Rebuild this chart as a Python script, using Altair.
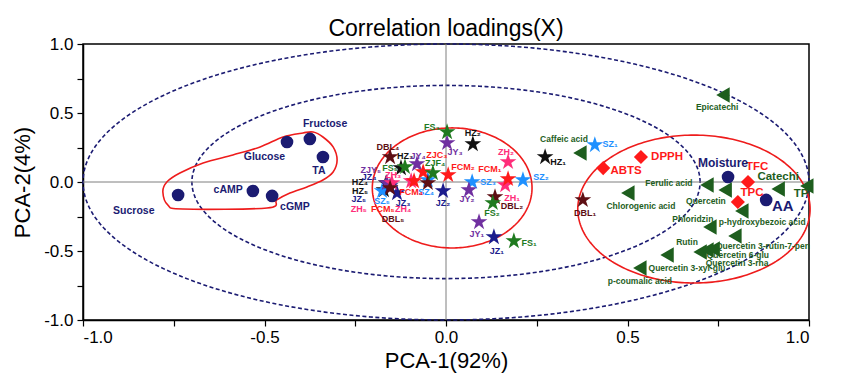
import altair as alt
import pandas as pd
import numpy as np

FONT = "Liberation Sans"

# ---------------- data ----------------
# navy circles
circ_x = [-0.738, -0.532, -0.479, -0.438, -0.375, -0.339, 0.777, 0.882]
circ_y = [-0.094, -0.065, -0.101, 0.290, 0.312, 0.181, 0.036, -0.130]

# left cluster labels
lcl_text = ["Sucrose", "cAMP", "cGMP", "Glucose", "Fructose", "TA"]
lcl_x = [-0.86, -0.600, -0.416, -0.500, -0.333, -0.350]
lcl_y = [-0.210, -0.058, -0.181, 0.181, 0.420, 0.080]

# green triangles (phenolics etc.)
tri_name = ["Epicatechi", "Caffeic acid", "Chlorogenic acid", "Ferulic acid", "Quercetin",
            "Catechi", "TP", "p-hydroxybezoic acid", "Phloridzin", "Quercetin 3-rutin-7-pen",
            "Rutin", "Quercetin 6-glu", "Quercetin 3-rha", "Quercetin 3-xyl-glu", "p-coumalic acid"]
tri_x = [0.763, 0.369, 0.501, 0.719, 0.769, 0.915, 0.994, 0.815, 0.727, 0.796,
         0.700, 0.719, 0.736, 0.609, 0.534]
tri_y = [0.630, 0.210, -0.080, -0.022, -0.058, -0.051, -0.029, -0.210, -0.326, -0.391,
         -0.507, -0.493, -0.486, -0.529, -0.623]
# small green labels
gl_text = ["Epicatechi", "Caffeic acid", "Chlorogenic acid", "Ferulic acid", "Quercetin",
           "p-hydroxybezoic acid", "Phloridzin", "Quercetin 3-rutin-7-pen", "Rutin",
           "Quercetin 6-glu", "Quercetin 3-rha", "Quercetin 3-xyl-glu", "p-coumalic acid"]
gl_x = [0.747, 0.325, 0.537, 0.614, 0.716, 0.871, 0.680, 0.873, 0.664, 0.804, 0.802, 0.664, 0.534]
gl_y = [0.543, 0.312, -0.174, -0.007, -0.138, -0.290, -0.268, -0.464, -0.435, -0.529, -0.587, -0.623, -0.717]
# larger green labels
gL_text = ["Catechi", "TP"]
gL_x = [0.915, 0.978]
gL_y = [0.036, -0.087]

# red diamonds
dia_name = ["ABTS", "DPPH", "TFC", "TPC"]
dia_x = [0.433, 0.537, 0.832, 0.804]
dia_y = [0.101, 0.181, 0.000, -0.145]
dia_lx = [0.496, 0.609, 0.857, 0.843]
dia_ly = [0.080, 0.181, 0.109, -0.080]

# navy labels on the right
nav_text = ["Moisture", "AA"]
nav_x = [0.763, 0.928]
nav_y = [0.138, -0.174]

# stars (samples)
star_group = ["HZ", "HZ", "HZ", "HZ", "HZ",
              "SZ", "SZ", "SZ", "SZ", "SZ",
              "JZ", "JZ", "JZ", "JZ",
              "JY", "JY", "JY", "JY", "JY",
              "ZH", "ZH", "ZH", "ZH",
              "FCM", "FCM", "FCM", "FCM",
              "DBL", "DBL", "DBL", "DBL", "DBL",
              "FS", "FS", "FS", "FS", "FS"]
star_x = [0.273, 0.074, -0.124, -0.165, -0.171,
          0.410, 0.212, 0.072, -0.050, -0.176,
          0.132, -0.008, -0.135, -0.154,
          0.091, 0.063, 0.003, -0.080, -0.163,
          0.163, 0.171, -0.149, -0.096,
          0.171, 0.006, -0.088, -0.063,
          0.377, 0.135, -0.154, -0.154, -0.050,
          0.187, 0.129, 0.003, -0.113, -0.036]
star_y = [0.181, 0.275, 0.101, -0.007, -0.058,
          0.268, 0.014, 0.000, 0.014, -0.065,
          -0.399, -0.065, -0.080, -0.029,
          -0.290, -0.058, 0.283, 0.130, -0.007,
          -0.022, 0.145, -0.007, 0.007,
          0.022, 0.051, 0.007, 0.072,
          -0.130, -0.109, 0.181, -0.043, -0.007,
          -0.428, -0.152, 0.362, 0.109, 0.065]

# sample labels
sl_text = ["HZ₁", "HZ₂", "HZ₃", "HZ₄", "HZ₅",
           "SZ₁", "SZ₂", "SZ₃", "SZ₄", "SZ₅",
           "JZ₁", "JZ₂", "JZ₃", "JZ₄", "JZ₅",
           "JY₁", "JY₂", "JY₃", "JY₄", "ZJY₅",
           "ZH₁", "ZH₂", "ZH₃", "ZH₄", "ZH₅",
           "FCM₁", "FCM₂", "FCM₄", "FCM₅", "ZJC₃",
           "DBL₁", "DBL₂", "DBL₄", "DBL₅",
           "FS₁", "FS₂", "FS₃", "FS₅", "ZJF₄"]
sl_group = ["HZ"] * 5 + ["SZ"] * 5 + ["JZ"] * 5 + ["JY"] * 5 + ["ZH"] * 5 + ["FCM"] * 5 + ["DBL"] * 4 + ["FS"] * 5
sl_x = [0.309, 0.074, -0.113, -0.237, -0.237,
        0.452, 0.262, 0.116, -0.055, -0.176,
        0.140, -0.008, -0.118, -0.212, -0.240,
        0.085, 0.058, 0.025, -0.077, -0.207,
        0.182, 0.165, -0.146, -0.118, -0.240,
        0.121, 0.047, -0.096, -0.174, -0.025,
        0.383, 0.182, -0.160, -0.146,
        0.229, 0.127, -0.039, -0.154, -0.030]
sl_y = [0.145, 0.355, 0.188, 0.000, -0.065,
        0.275, 0.036, 0.000, -0.072, -0.138,
        -0.500, -0.152, -0.152, 0.036, -0.123,
        -0.377, -0.123, 0.217, 0.188, 0.087,
        -0.116, 0.217, 0.051, -0.196, -0.196,
        0.094, 0.109, -0.072, -0.196, 0.196,
        -0.225, -0.174, 0.254, -0.268,
        -0.442, -0.225, 0.399, 0.101, 0.138]

group_domain = ["HZ", "SZ", "JZ", "JY", "ZH", "FCM", "DBL", "FS"]
group_range = ["#111111", "#1e90ff", "#1c1c8c", "#7030a0", "#ff2d7a", "#ff1a1a", "#5e0f14", "#1f7a1f"]

# freeform outline around the sugar cluster
blob_x = [-0.780, -0.769, -0.733, -0.669, -0.587, -0.512, -0.449, -0.394, -0.366, -0.339,
          -0.311, -0.300, -0.311, -0.339, -0.383, -0.430, -0.466, -0.493, -0.725, -0.766]
blob_y = [-0.072, 0.000, 0.065, 0.138, 0.196, 0.254, 0.326, 0.355, 0.362, 0.326,
          0.254, 0.159, 0.072, 0.014, -0.036, -0.080, -0.130, -0.188, -0.196, -0.167]

# reference circles (correlation 100% and 70%) and red ellipses: centre x, centre y, radius x, radius y
dashed_cx, dashed_cy, dashed_rx, dashed_ry = [0, 0], [0, 0], [1.0, 0.7], [1.0, 0.7]
red_cx, red_cy, red_rx, red_ry = [0.017, 0.683], [-0.043, -0.196], [0.220, 0.320], [0.435, 0.536]


def ellipse_df(cx, cy, rx, ry):
    t = np.linspace(0, 2 * np.pi, 241)
    rows = []
    for k in range(len(cx)):
        for i, tt in enumerate(t):
            rows.append({"id": k, "o": i, "x": cx[k] + rx[k] * np.cos(tt), "y": cy[k] + ry[k] * np.sin(tt)})
    return pd.DataFrame(rows)


STAR = ("M0,-1L0.223,-0.307L0.951,-0.309L0.361,0.117L0.588,0.809L0,0.38"
        "L-0.588,0.809L-0.361,0.117L-0.951,-0.309L-0.223,-0.307Z")

ticks = [-1, -0.75, -0.5, -0.25, 0, 0.25, 0.5, 0.75, 1]
lab_expr = ("abs(datum.value*2 - round(datum.value*2)) < 0.01 ? "
            "replace(format(datum.value, '.1f'), '\u2212', '-') : ''")

xs = alt.Scale(domain=[-1, 1], nice=False, zero=False)
ys = alt.Scale(domain=[-1, 1], nice=False, zero=False)
X = alt.X("x:Q", scale=xs, axis=alt.Axis(title="PCA-1(92%)", values=ticks, labelExpr=lab_expr,
                                         grid=False, tickSize=6, labelPadding=3, titlePadding=5))
Y = alt.Y("y:Q", scale=ys, axis=alt.Axis(title="PCA-2(4%)", values=ticks, labelExpr=lab_expr,
                                         grid=False, tickSize=6, labelPadding=4, titlePadding=9))

NAVY = "#1b1b72"
GREEN = "#1e5e1e"
RED = "#ff1a1a"

dashed = alt.Chart(ellipse_df(dashed_cx, dashed_cy, dashed_rx, dashed_ry)).mark_line(
    color=NAVY, strokeWidth=1.6, strokeDash=[4, 2.5]).encode(x=X, y=Y, detail="id:N", order="o:Q")

red_ell = alt.Chart(ellipse_df(red_cx, red_cy, red_rx, red_ry)).mark_line(
    color="#ee1c1c", strokeWidth=1.6).encode(x=X, y=Y, detail="id:N", order="o:Q")

blob = alt.Chart(pd.DataFrame({"x": blob_x, "y": blob_y, "o": list(range(len(blob_x)))})).mark_line(
    color="#ee1c1c", strokeWidth=1.6, interpolate="cardinal-closed").encode(x=X, y=Y, order="o:Q")

vrule = alt.Chart(pd.DataFrame({"x": [0]})).mark_rule(color="#7f7f7f", strokeWidth=1).encode(x=X)
hrule = alt.Chart(pd.DataFrame({"y": [0]})).mark_rule(color="#7f7f7f", strokeWidth=1).encode(y=Y)

circles = alt.Chart(pd.DataFrame({"x": circ_x, "y": circ_y})).mark_point(
    shape="circle", filled=True, size=160, color=NAVY, opacity=1).encode(x=X, y=Y)

tris = alt.Chart(pd.DataFrame({"x": tri_x, "y": tri_y, "name": tri_name})).mark_point(
    shape="triangle-left", filled=True, size=240, color=GREEN, opacity=1).encode(x=X, y=Y)

dias = alt.Chart(pd.DataFrame({"x": dia_x, "y": dia_y})).mark_point(
    shape="diamond", filled=True, size=200, color=RED, opacity=1).encode(x=X, y=Y)

cscale = alt.Scale(domain=group_domain, range=group_range)
stars = alt.Chart(pd.DataFrame({"x": star_x, "y": star_y, "g": star_group})).mark_point(
    shape=STAR, filled=True, size=310, opacity=1).encode(
    x=X, y=Y, color=alt.Color("g:N", scale=cscale, legend=None))


def txt(df, size, color=None, enc_color=None):
    kw = dict(font=FONT, fontWeight="bold", fontSize=size, align="center", baseline="middle")
    if color:
        kw["color"] = color
    ch = alt.Chart(df).mark_text(**kw)
    enc = dict(x=X, y=Y, text="t:N")
    if enc_color is not None:
        enc["color"] = enc_color
    return ch.encode(**enc)


t_left = txt(pd.DataFrame({"x": lcl_x, "y": lcl_y, "t": lcl_text}), 10.5, NAVY)
t_green = txt(pd.DataFrame({"x": gl_x, "y": gl_y, "t": gl_text}), 8.5, GREEN)
t_greenL = txt(pd.DataFrame({"x": gL_x, "y": gL_y, "t": gL_text}), 11.5, GREEN)
t_red = txt(pd.DataFrame({"x": dia_lx, "y": dia_ly, "t": dia_name}), 11.5, RED)
t_moist = txt(pd.DataFrame({"x": nav_x[:1], "y": nav_y[:1], "t": nav_text[:1]}), 12, NAVY)
t_aa = txt(pd.DataFrame({"x": nav_x[1:], "y": nav_y[1:], "t": nav_text[1:]}), 15, NAVY)
t_samp = txt(pd.DataFrame({"x": sl_x, "y": sl_y, "t": sl_text, "g": sl_group}), 9,
             enc_color=alt.Color("g:N", scale=cscale, legend=None))

chart = alt.layer(
    dashed, vrule, hrule, red_ell, blob, circles, tris, dias, stars,
    t_left, t_green, t_greenL, t_red, t_moist, t_aa, t_samp
).properties(
    width=726, height=276,
    title=alt.TitleParams("Correlation loadings(X)", anchor="middle"),
    autosize=alt.AutoSizeParams(type="none"),
    padding={"left": 75, "top": 36, "right": 33, "bottom": 56},
).configure_view(
    stroke="black", strokeWidth=1.5
).configure_axis(
    domainColor="black", domainWidth=1.5, tickColor="black", tickWidth=1.2,
    labelFont=FONT, labelFontSize=17, labelColor="black",
    titleFont=FONT, titleFontSize=22, titleFontWeight="normal", titleColor="black"
).configure_title(
    font=FONT, fontSize=23, fontWeight="normal", color="black", offset=-6
)

chart.save("out.html", embed_options={"renderer": "svg", "actions": False})
